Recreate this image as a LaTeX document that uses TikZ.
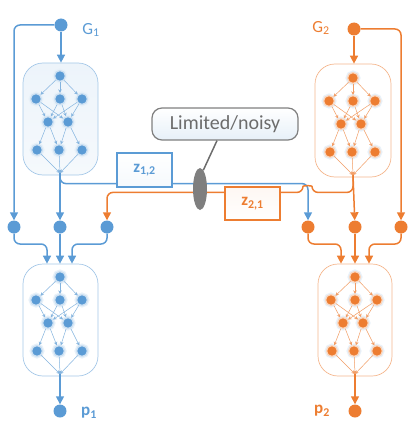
\documentclass[tikz,border=0pt]{standalone}
\usepackage{fontspec}
\setmainfont{Carlito}
\usetikzlibrary{arrows.meta,shapes.geometric,calc}
\definecolor{bl}{HTML}{5B9BD5}
\definecolor{og}{HTML}{ED7D31}
\definecolor{gy}{HTML}{7F7F7F}
\tikzset{
 big/.style={circle,fill=#1,inner sep=0pt,minimum size=13pt},
 inn/.style={circle,fill=#1,draw=#1!30,line width=1.3pt,inner sep=0pt,minimum size=11pt,
   preaction={draw=bl!14,line width=4pt}},
 iedge/.style={draw=#1!75,line width=0.5pt,-{Stealth[length=3.5pt,width=3.5pt]}},
 mline/.style={draw=#1,line width=1.5pt,rounded corners=6pt},
 arr/.style={-{Triangle[length=8pt,width=8pt]}},
 dagbox/.style={draw=#1!55,line width=0.7pt,rounded corners=20pt,inner sep=0pt},
 lab/.style={text=#1,font=\fontsize{17}{17}\selectfont,inner sep=1pt},
 zbox/.style={draw=#1,line width=1.2pt,inner sep=0pt,text=#1,font=\bfseries\fontsize{17}{17}\selectfont},
}
\newcommand\dagnet[4]{%
 \begin{scope}[shift={(#2,#3)}]
  \node[inn=#4] (#1a) at (0,0) {};
  \node[inn=#4] (#1b) at (-24,23) {};
  \node[inn=#4] (#1c) at (0,23) {};
  \node[inn=#4] (#1d) at (22,23) {};
  \node[inn=#4] (#1e) at (-12,46) {};
  \node[inn=#4] (#1f) at (8,46) {};
  \node[inn=#4] (#1g) at (-23,74) {};
  \node[inn=#4] (#1h) at (-1,74) {};
  \node[inn=#4] (#1i) at (22,74) {};
  \coordinate (#1k) at (0,97);
  \foreach \s/\t in {a/b,a/c,a/d,b/e,b/f,c/e,c/f,d/e,d/f,e/g,e/h,f/h,f/i}
    \draw[iedge=#4] (#1\s) -- (#1\t);
  \foreach \s in {g,h,i} \draw[iedge=#4] (#1\s) -- (#1k);
 \end{scope}}
\begin{document}
\begin{tikzpicture}[x=1pt,y=-1pt]
\useasboundingbox (0,0) rectangle (416,444);
% containers
\node[dagbox=bl, top color=bl!11, bottom color=bl!6, minimum width=75pt, minimum height=112pt] (box1) at (60.5,119) {};
\node[dagbox=og, fill=white, minimum width=76pt, minimum height=113pt] (box2) at (353,120.5) {};
\node[dagbox=bl, fill=white, minimum width=75pt, minimum height=112pt] (box3) at (60.5,320) {};
\node[dagbox=og, fill=white, minimum width=74pt, minimum height=112pt] (box4) at (355,320) {};
\dagnet{A}{60}{76}{bl}
\dagnet{B}{353}{78}{og}
\dagnet{C}{60}{277}{bl}
\dagnet{D}{355}{277}{og}
% big nodes
\node[big=bl] (g1) at (61,25) {};
\node[big=og] (g2) at (354,29) {};
\node[big=bl] (b1l) at (14,227) {};
\node[big=bl] (b1m) at (60,227) {};
\node[big=bl] (b1r) at (107,227) {};
\node[big=og] (b2l) at (308,227) {};
\node[big=og] (b2m) at (355,227) {};
\node[big=og] (b2r) at (401,227) {};
\node[big=bl] (p1) at (60,411) {};
\node[big=og] (p2) at (355,411) {};
% labels
\node[lab=bl] (lg1) at (91,30) {G\textsubscript{1}};
\node[lab=og] (lg2) at (321,28) {G\textsubscript{2}};
\node[lab=bl,font=\bfseries\fontsize{17}{17}\selectfont] (lp1) at (89,413) {p\textsubscript{1}};
\node[lab=og,font=\bfseries\fontsize{17}{17}\selectfont] (lp2) at (322,411) {p\textsubscript{2}};
% message boxes
\node[zbox=bl, top color=white, bottom color=bl!6, minimum width=55pt, minimum height=34pt] (z12) at (144.5,170) {z\textsubscript{1,2}};
\node[zbox=og, top color=og!6, bottom color=white, minimum width=55pt, minimum height=33pt] (z21) at (252.5,203.5) {z\textsubscript{2,1}};
\coordinate (o2) at ($(z21.north east)+(0,6)$);
\coordinate (o1) at ($(z21.north west)+(0,6)$);
% G connectors
\draw[mline=bl,arr] (g1) -- (g1 |- box1.north);
\draw[mline=bl,arr] (g1) -| (b1l);
\draw[mline=og,arr] (g2) -- (g2 |- box2.north);
\draw[mline=og,arr] (g2) -| (b2r);
% outputs of top DAGs
\draw[mline=bl,arr] (Ak) -- (b1m);
\draw[mline=bl] (Ak) |- ([yshift=4pt]z12.south west);
\draw[mline=bl,arr] ([yshift=4pt]z12.south east) -| (b2l);
\draw[mline=og,arr] (Bk) -- (b2m);
\draw[mline=og] (Bk) |- ($(b2l |- o2)+(4,0)$) .. controls +(0,-7) and +(0,-7) .. ($(b2l |- o2)+(-5,0)$) -- (o2);
\draw[mline=og,arr] (o1) -| (b1r);
% inputs of bottom DAGs
\draw[mline=bl,arr] (b1l) -- ++(0,17) -| ($(box3.north)+(-13.5,0)$);
\draw[mline=bl,arr] (b1m) -- (b1m |- box3.north);
\draw[mline=bl,arr] (b1r) -- ++(0,17) -| ($(box3.north)+(11.5,0)$);
\draw[mline=og,arr] (b2l) -- ++(0,17) -| ($(box4.north)+(-14,0)$);
\draw[mline=og,arr] (b2m) -- (b2m |- box4.north);
\draw[mline=og,arr] (b2r) -- ++(0,17) -| ($(box4.north)+(14,0)$);
% outputs
\draw[mline=bl,arr] (Ck) -- (p1);
\draw[mline=og,arr] (Dk) -- (p2);
% channel
\node[ellipse, fill=gy, minimum width=14pt, minimum height=42pt, inner sep=0pt] (ell) at (200,189) {};
\node[draw=gy, line width=1.2pt, rounded corners=10pt, top color=white, bottom color=bl!15!white, minimum width=146pt, minimum height=32pt, text=gy!85!black, font=\fontsize{20}{20}\selectfont] (lim) at (225,124) {Limited/noisy};
\draw[gy!85!black, line width=1.5pt] (ell.80) -- ([xshift=-8pt]lim.south);
\end{tikzpicture}
\end{document}
